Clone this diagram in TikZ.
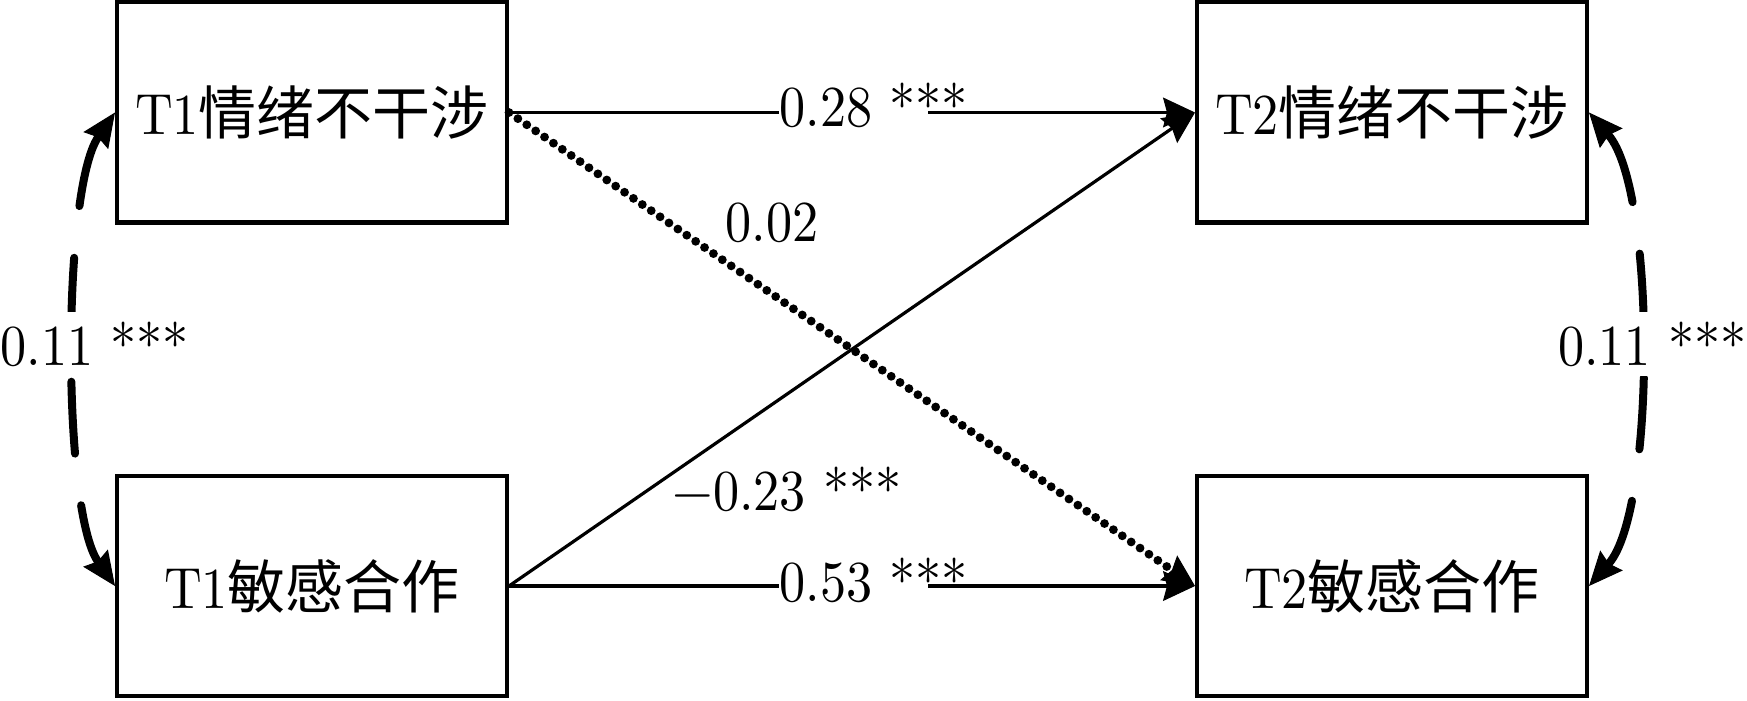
\documentclass[tikz,border=0pt]{standalone}
\usepackage{fontspec}
\setmainfont{lmroman10-regular}[Extension=.otf, FakeStretch=0.9]
\newfontfamily\cjk{Noto Sans CJK SC}
\usetikzlibrary{arrows.meta}
\tikzset{
  box/.style={draw, line width=2pt, minimum width=195pt, minimum height=110pt, inner sep=0pt,
    font=\fontsize{29}{34}\selectfont},
  lab/.style={inner sep=0pt, font=\fontsize{29}{34}\selectfont},
  tip/.style={-{Stealth[length=16pt,width=15pt,inset=2pt,line width=0.5pt]}},
  pathline/.style={line width=1.6pt, tip},
  dotline/.style={line width=4.4pt, dash pattern=on 0pt off 5.4pt, line cap=round, tip},
  covline/.style={line width=4pt, line cap=round, dash pattern=on 36pt off 26pt,
    {Stealth[length=17pt,width=15pt,inset=2pt,line width=0.5pt]}-{Stealth[length=17pt,width=15pt,inset=2pt,line width=0.5pt]}}
}
\begin{document}
\begin{tikzpicture}[x=0.5pt,y=-0.5pt]
\useasboundingbox (0,0) rectangle (1747,701);
\node[box] (a1) at (312,112.5) {T1\cjk 情绪不干涉};
\node[box] (b1) at (312,586) {T1\cjk 敏感合作};
\node[box] (a2) at (1392,112.5) {T2\cjk 情绪不干涉};
\node[box] (b2) at (1392,586) {T2\cjk 敏感合作};
% paths
\draw[pathline] (a1.east) -- (a2.west);
\draw[pathline] (b1.east) -- (b2.west);
\draw[pathline] (b1.east) -- (a2.west);
\draw[dotline] (a1.east) -- (b2.west);
% covariances
\draw[covline] (a1.west) .. controls (62,190) and (62,510) .. (b1.west);
\draw[covline] (a2.east) .. controls (1656,190) and (1656,510) .. (b2.east);
% labels
\node[lab, fill=white, inner ysep=4pt, anchor=base west] (l28) at (779,127) {0.28 \makebox[19pt][l]{***}};
\node[lab, fill=white, inner ysep=4pt, anchor=base west] (l53) at (779,601) {0.53 \makebox[19pt][l]{***}};
\node[lab, anchor=base west] (l02) at (725,242) {0.02};
\node[lab, anchor=base west] (l23) at (672,510) {−0.23 ***};
\node[lab, fill=white, inner ysep=5pt, anchor=base west] (l11a) at (0,365) {0.11 ***};
\node[lab, fill=white, inner ysep=5pt, anchor=base east] (l11b) at (1747,365) {0.11 ***};
\end{tikzpicture}
\end{document}
